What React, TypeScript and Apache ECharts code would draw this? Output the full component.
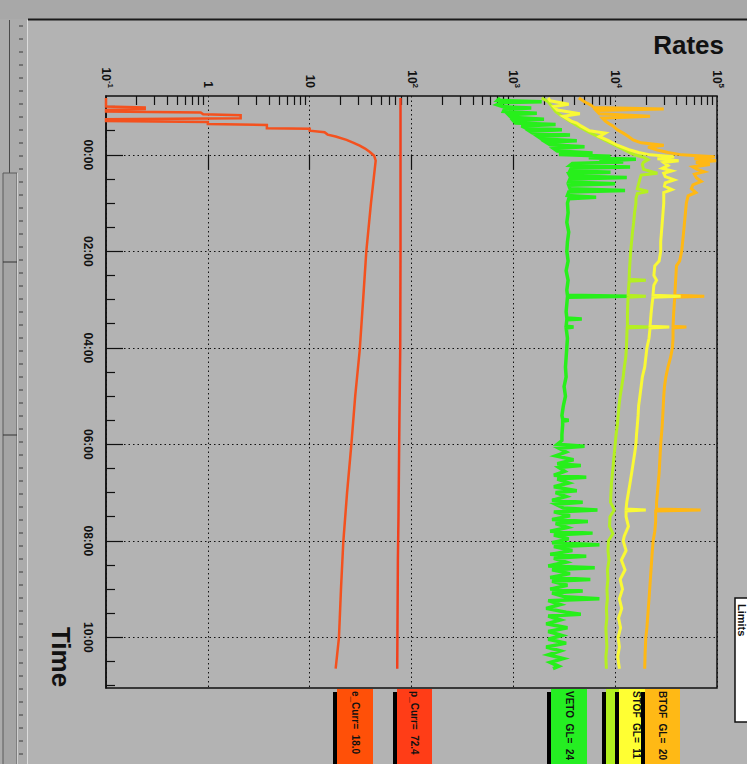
import React, { useEffect, useRef } from "react";
import * as echarts from "echarts";

// Time axis (hours relative to midnight)
const hourTicks = [0, 2, 4, 6, 8, 10];
const halfHourTicks = [-1, -0.5, 0.5, 1, 1.5, 2.5, 3, 3.5, 4.5, 5, 5.5, 6.5, 7, 7.5, 8.5, 9, 9.5, 10.5, 11];
const hourLabels = ["00:00", "02:00", "04:00", "06:00", "08:00", "10:00"];

// Rate axis (log)
const decadeTicks = [0.1, 1, 10, 100, 1000, 10000, 100000];
const decadeLabels = ["10^-1", "1", "10", "10^2", "10^3", "10^4", "10^5"];
const subDecadeTicks = [
  0.2, 0.3, 0.4, 0.5, 0.6, 0.7, 0.8, 0.9,
  2, 3, 4, 5, 6, 7, 8, 9,
  20, 30, 40, 50, 60, 70, 80, 90,
  200, 300, 400, 500, 600, 700, 800, 900,
  2000, 3000, 4000, 5000, 6000, 7000, 8000, 9000,
  20000, 30000, 40000, 50000, 60000, 70000, 80000, 90000,
];

// [hour, value]
const eCurr: [number, number][] = [
  [-1.18, 0.1], [-1.0, 0.1], [-0.98, 0.24], [-0.95, 0.24], [-0.93, 0.1], [-0.9, 0.1], [-0.88, 0.85],
  [-0.84, 0.9], [-0.82, 2.1], [-0.76, 2.1], [-0.74, 0.1], [-0.7, 0.1], [-0.68, 1.0], [-0.64, 1.0],
  [-0.62, 3.8], [-0.55, 3.8], [-0.54, 10], [-0.5, 10], [-0.47, 14], [-0.42, 15], [-0.38, 18],
  [-0.31, 23], [-0.25, 27], [-0.19, 31], [-0.13, 35], [-0.06, 39], [0.02, 43], [0.12, 44.5],
  [1.0, 40], [2.0, 36], [3.0, 33.5], [4.05, 31], [5.0, 28], [6.03, 25.6], [7.0, 23.3],
  [8.02, 21.4], [9.0, 20.3], [10.0, 19.4], [10.65, 18.0],
];

const pCurr: [number, number][] = [
  [-1.18, 78], [2.0, 78], [4.0, 77.5], [5.6, 76], [7.5, 74.5], [8.4, 73.5], [10.65, 72.4],
];

const vetoRate: [number, number][] = [
  [-1.18, 740], [-1.13, 700], [-1.1, 1900], [-1.08, 760], [-1.04, 690], [-1.0, 780], [-0.97, 1500],
  [-0.95, 820], [-0.9, 800], [-0.86, 1700], [-0.83, 900], [-0.78, 950], [-0.74, 2000], [-0.71, 1000],
  [-0.66, 1050], [-0.63, 2600], [-0.6, 1200], [-0.55, 1350], [-0.52, 3000], [-0.49, 1450],
  [-0.45, 1550], [-0.41, 3600], [-0.38, 1750], [-0.33, 1900], [-0.29, 4200], [-0.26, 2100],
  [-0.21, 2300], [-0.17, 5000], [-0.13, 2500], [-0.08, 2700], [-0.04, 6000], [-0.01, 2800],
  [0.03, 9000], [0.06, 5500], [0.09, 16000], [0.12, 7000], [0.15, 12000], [0.18, 3800],
  [0.22, 3600], [0.25, 14000], [0.28, 3700], [0.33, 3600], [0.36, 9000], [0.39, 3500],
  [0.44, 3600], [0.47, 13000], [0.5, 3600], [0.56, 3500], [0.6, 10000], [0.63, 3500],
  [0.7, 3600], [0.74, 12500], [0.77, 3500], [0.84, 3400], [0.88, 6500], [0.91, 3500],
  [1.0, 3400], [1.2, 3450], [1.4, 3350], [1.6, 3500], [1.8, 3400], [2.0, 3350], [2.2, 3450],
  [2.4, 3300], [2.6, 3450], [2.8, 3350], [2.91, 3400], [2.93, 13500], [2.95, 3400], [3.1, 3350],
  [3.25, 3300], [3.38, 3350], [3.4, 4700], [3.42, 3350], [3.55, 3300], [3.57, 3900], [3.59, 3300],
  [3.8, 3400], [4.0, 3350], [4.2, 3300], [4.4, 3250], [4.6, 3300], [4.8, 3150], [5.0, 3250],
  [5.2, 3100], [5.4, 3000], [5.48, 3050], [5.5, 3500], [5.52, 3050], [5.6, 3050], [5.8, 3000],
  [5.92, 3000], [6.0, 2700], [6.04, 5000], [6.08, 2800], [6.16, 3300], [6.24, 2600], [6.32, 3900],
  [6.4, 2700], [6.44, 4600], [6.48, 2800], [6.56, 3200], [6.64, 2500], [6.68, 5200], [6.72, 2700],
  [6.8, 3500], [6.88, 2500], [6.96, 4200], [7.0, 2600], [7.08, 3300], [7.16, 2400], [7.2, 4800],
  [7.24, 2600], [7.32, 3100], [7.36, 6700], [7.4, 2500], [7.48, 3600], [7.56, 2400], [7.6, 5400],
  [7.64, 2600], [7.72, 3400], [7.8, 2300], [7.84, 6000], [7.88, 2500], [7.96, 3500], [8.04, 2400],
  [8.08, 7000], [8.12, 2500], [8.2, 3800], [8.28, 2300], [8.32, 5200], [8.36, 2500], [8.44, 3300],
  [8.52, 2200], [8.56, 6300], [8.6, 2400], [8.68, 3600], [8.76, 2300], [8.8, 5700], [8.84, 2400],
  [8.92, 3400], [9.0, 2300], [9.04, 4800], [9.08, 2400], [9.16, 3200], [9.2, 7000], [9.24, 2200],
  [9.32, 2900], [9.4, 2100], [9.48, 3300], [9.52, 4600], [9.56, 2200], [9.64, 2900], [9.72, 2100],
  [9.8, 3400], [9.88, 2200], [9.96, 3000], [10.04, 2200], [10.12, 3300], [10.2, 2100], [10.28, 2900],
  [10.36, 2200], [10.44, 3100], [10.52, 2300], [10.6, 2800], [10.65, 2450],
];

const innerRate: [number, number][] = [
  [-1.18, 1900], [-1.1, 2200], [-1.0, 2400], [-0.9, 2600], [-0.8, 3000], [-0.7, 3600], [-0.6, 4300],
  [-0.5, 5200], [-0.4, 6500], [-0.3, 8000], [-0.2, 10000], [-0.1, 12500], [0.0, 15500],
  [0.05, 19000], [0.1, 21000], [0.15, 19000], [0.2, 18500], [0.3, 19000], [0.38, 26000],
  [0.42, 18000], [0.5, 17500], [0.6, 17000], [0.7, 16500], [0.76, 21000], [0.8, 16500],
  [0.9, 16000], [1.0, 16000], [1.2, 15500], [1.4, 15200], [1.6, 14800], [1.8, 14500],
  [2.0, 14200], [2.2, 14000], [2.4, 13800], [2.58, 13700], [2.6, 20000], [2.62, 13700],
  [2.8, 13500], [2.91, 13400], [2.93, 20000], [2.95, 13400], [3.1, 13300], [3.3, 13200],
  [3.55, 13200], [3.57, 22000], [3.59, 13100], [3.8, 13000], [4.0, 12900], [4.2, 12700],
  [4.4, 12300], [4.6, 12000], [4.8, 11600], [5.0, 11200], [5.2, 10900], [5.4, 10700],
  [5.6, 10500], [5.8, 10200], [6.0, 10000], [6.2, 9800], [6.4, 9600], [6.6, 9400], [6.8, 9200],
  [7.0, 9100], [7.2, 9000], [7.36, 9800], [7.5, 8900], [7.7, 8800], [7.85, 9500], [8.0, 8600],
  [8.2, 8500], [8.4, 8700], [8.6, 8400], [8.8, 8500], [9.0, 8300], [9.2, 8400], [9.4, 8200],
  [9.6, 8300], [9.8, 8100], [10.0, 8200], [10.2, 8300], [10.4, 8100], [10.65, 8200],
];

const stofRate: [number, number][] = [
  [-1.18, 2200], [-1.12, 2300], [-1.05, 3500], [-1.0, 2500], [-0.93, 2700], [-0.85, 4500],
  [-0.8, 3100], [-0.7, 3700], [-0.66, 4200], [-0.6, 4600], [-0.5, 5600], [-0.45, 8000],
  [-0.38, 7000], [-0.3, 8500], [-0.2, 10500], [-0.1, 14000], [-0.05, 17000], [0.0, 22000],
  [0.04, 38000], [0.08, 26000], [0.12, 42000], [0.16, 30000], [0.22, 33000], [0.28, 29000],
  [0.33, 36000], [0.38, 30000], [0.45, 31000], [0.52, 38000], [0.58, 31000], [0.65, 30500],
  [0.72, 36000], [0.78, 30000], [0.9, 30000], [1.0, 30000], [1.2, 29500], [1.4, 29000],
  [1.6, 28500], [1.8, 28000], [2.0, 28000], [2.2, 27000], [2.3, 24500], [2.5, 24000],
  [2.6, 25500], [2.7, 24000], [2.91, 23500], [2.93, 44000], [2.95, 23500], [3.1, 23000],
  [3.3, 22500], [3.55, 22000], [3.57, 34000], [3.59, 22000], [3.8, 21500], [4.0, 20500],
  [4.2, 20000], [4.4, 19500], [4.6, 18500], [4.8, 18000], [5.0, 17500], [5.2, 17000],
  [5.4, 16800], [5.6, 16500], [5.8, 16200], [6.0, 16000], [6.2, 15500], [6.4, 15000],
  [6.6, 14500], [6.8, 14000], [7.0, 13500], [7.2, 13000], [7.34, 12800], [7.36, 20000],
  [7.38, 12800], [7.5, 12800], [7.7, 13500], [7.9, 12300], [8.0, 12000], [8.2, 12800],
  [8.4, 11500], [8.6, 12500], [8.8, 11200], [9.0, 11800], [9.2, 11000], [9.4, 11600],
  [9.6, 10800], [9.8, 11300], [10.0, 10700], [10.2, 11000], [10.4, 10600], [10.65, 11000],
];

const btofRate: [number, number][] = [
  [-1.18, 4400], [-1.1, 5000], [-1.03, 5800], [-0.98, 6200], [-0.95, 30000], [-0.92, 6500],
  [-0.85, 7000], [-0.8, 22000], [-0.76, 7500], [-0.7, 8000], [-0.64, 8800], [-0.6, 9500],
  [-0.52, 10500], [-0.45, 12000], [-0.38, 13500], [-0.31, 15000], [-0.25, 18000], [-0.2, 30000],
  [-0.16, 21000], [-0.1, 26000], [-0.05, 33000], [0.0, 45000], [0.04, 95000], [0.08, 60000],
  [0.12, 98000], [0.16, 62000], [0.2, 85000], [0.25, 58000], [0.3, 64000], [0.35, 75000],
  [0.4, 60000], [0.48, 63000], [0.55, 70000], [0.62, 58000], [0.7, 56000], [0.78, 62000],
  [0.85, 52000], [1.0, 50000], [1.2, 49000], [1.4, 48000], [1.6, 47000], [1.8, 46000],
  [2.0, 45000], [2.2, 43000], [2.3, 40000], [2.5, 39500], [2.7, 39000], [2.91, 38500],
  [2.93, 75000], [2.95, 38500], [3.1, 38000], [3.3, 37500], [3.55, 37000], [3.57, 50000],
  [3.59, 37000], [3.8, 37000], [4.0, 36500], [4.2, 35000], [4.4, 33000], [4.6, 31500],
  [4.8, 30500], [5.0, 30000], [5.3, 29500], [5.6, 29000], [6.0, 28000], [6.3, 27500],
  [6.6, 27000], [7.0, 26000], [7.2, 25500], [7.34, 25500], [7.36, 69000], [7.38, 25000],
  [7.6, 25000], [7.8, 24500], [8.0, 23600], [8.3, 23000], [8.6, 22500], [8.9, 22000],
  [9.2, 21500], [9.5, 21000], [9.8, 20500], [10.0, 20000], [10.3, 19700], [10.65, 19500],
];

// Legend pave labels
const legendTexts = ["e_Curr=  18.0", "p_Curr=  72.4", "VETO  GL=  24", "", "STOF  GL=  11", "BTOF  GL=  20"];

const FONT = "'Liberation Sans', Arial, Helvetica, sans-serif";

const pad2 = (n: number) => (n < 10 ? "0" + n : "" + n);

function formatDecade(v: number): string {
  const i = decadeTicks.findIndex((d) => Math.abs(Math.log10(d) - Math.log10(v)) < 1e-6);
  if (i < 0) return "";
  const [base, exp] = decadeLabels[i].split("^");
  return exp ? `{b|${base}}{s|${exp}}` : `{b|${base}}`;
}

function formatHour(v: number): string {
  const i = hourTicks.indexOf(Math.round(v));
  return i >= 0 ? hourLabels[i] : pad2(Math.round(v)) + ":00";
}

export default function App() {
  const ref = useRef<HTMLDivElement>(null);

  useEffect(() => {
    if (!ref.current) return;
    const chart = echarts.init(ref.current, undefined, { renderer: "svg" });

    const line = (name: string, data: [number, number][], color: string, width: number) => ({
      name,
      type: "line",
      xAxisIndex: 0,
      yAxisIndex: 0,
      data: data.map(([h, v]) => [v, h]),
      showSymbol: false,
      symbol: "none",
      lineStyle: { color, width, join: "miter" },
      emphasis: { disabled: true },
      z: 3,
    });

    // left control strip dashes
    const stripDashes: any[] = [];
    for (let y = 26; y < 764; y += 13) {
      stripDashes.push({
        type: "line",
        shape: { x1: 19, y1: y, x2: 23, y2: y },
        style: { stroke: "#3a3a3a", lineWidth: 1 },
        silent: true,
      });
    }

    const legendBox = (x: number, w: number, color: string, text: string, textX: number) => ({
      type: "group",
      silent: true,
      children: [
        { type: "rect", shape: { x: x - 4, y: 692, width: 4, height: 80 }, style: { fill: "#000" } },
        { type: "rect", shape: { x, y: 689, width: w, height: 80 }, style: { fill: color } },
        {
          type: "text",
          x: textX,
          y: 691,
          rotation: -Math.PI / 2,
          style: {
            text,
            fill: "#111",
            font: `bold 10px ${FONT}`,
            textAlign: "left",
            textVerticalAlign: "middle",
          },
        },
      ],
    });

    chart.setOption({
      animation: false,
      backgroundColor: "#b3b3b3",
      grid: {
        left: 106,
        top: 96,
        right: 30,
        bottom: 76,
        show: true,
        borderColor: "#111",
        borderWidth: 1.5,
        backgroundColor: "transparent",
      },
      xAxis: [
        {
          type: "log",
          logBase: 10,
          min: 0.1,
          max: 100000,
          position: "top",
          // the frame's top edge comes from the grid border
          axisLine: { show: false },
          axisTick: { show: true, inside: true, length: 15, customValues: decadeTicks, lineStyle: { color: "#111", width: 1.2 } },
          axisLabel: {
            show: true,
            customValues: decadeTicks,
            rotate: -90,
            margin: 8,
            align: "right",
            verticalAlign: "middle",
            formatter: (v: number) => formatDecade(v),
            rich: {
              b: { fontFamily: FONT, fontWeight: "bold", fontSize: 12, color: "#111" },
              s: { fontFamily: FONT, fontWeight: "bold", fontSize: 8, color: "#111", padding: [0, 0, 8, 0] },
            },
          },
          splitLine: { show: true, lineStyle: { color: "#111", width: 1, type: [1.5, 3] } },
        },
        {
          type: "log",
          logBase: 10,
          min: 0.1,
          max: 100000,
          position: "top",
          axisLine: { show: false, onZero: false },
          axisTick: { show: true, inside: true, length: 9, customValues: subDecadeTicks, lineStyle: { color: "#111", width: 1.2 } },
          axisLabel: { show: false },
          splitLine: { show: false },
        },
      ],
      yAxis: [
        {
          type: "value",
          inverse: true,
          min: -1.22,
          max: 11.05,
          position: "left",
          axisLine: { show: true, onZero: false, lineStyle: { color: "#111", width: 1.5 } },
          axisTick: { show: true, inside: true, length: 17, customValues: hourTicks, lineStyle: { color: "#111", width: 1.2 } },
          axisLabel: {
            show: true,
            customValues: hourTicks,
            rotate: -90,
            margin: 18,
            align: "center",
            verticalAlign: "middle",
            fontFamily: FONT,
            fontWeight: "bold",
            fontSize: 12,
            color: "#111",
            formatter: (v: number) => formatHour(v),
          },
          splitLine: { show: true, lineStyle: { color: "#111", width: 1, type: [1.5, 3] } },
        },
        {
          type: "value",
          inverse: true,
          min: -1.22,
          max: 11.05,
          position: "left",
          axisLine: { show: false, onZero: false },
          axisTick: { show: true, inside: true, length: 9, customValues: halfHourTicks, lineStyle: { color: "#111", width: 1.2 } },
          axisLabel: { show: false },
          splitLine: { show: false },
        },
      ],
      series: [
        line("VETO", vetoRate, "#27ef1b", 3.5),
        line("BTOF", btofRate, "#ffb814", 3),
        line("Inner", innerRate, "#b4ef22", 3),
        line("STOF", stofRate, "#f9f935", 3),
        line("e_Curr", eCurr, "#f4511e", 2.5),
        line("p_Curr", pCurr, "#f2401c", 2.5),
      ],
      graphic: [
        // top band and pad border
        { type: "rect", silent: true, z: -10, shape: { x: 0, y: 0, width: 747, height: 19 }, style: { fill: "#a8a8a8" } },
        { type: "line", silent: true, shape: { x1: 28, y1: 19.5, x2: 747, y2: 19.5 }, style: { stroke: "#1a1a1a", lineWidth: 2 } },
        // left control strip
        { type: "rect", silent: true, z: -10, shape: { x: 0, y: 19, width: 27, height: 745 }, style: { fill: "#ababab" } },
        { type: "line", silent: true, shape: { x1: 27.5, y1: 20, x2: 27.5, y2: 764 }, style: { stroke: "#dcdcdc", lineWidth: 1 } },
        { type: "line", silent: true, shape: { x1: 9.5, y1: 20, x2: 9.5, y2: 173 }, style: { stroke: "#4a4a4a", lineWidth: 1 } },
        { type: "rect", silent: true, shape: { x: 3, y: 173, width: 14, height: 600 }, style: { fill: "#a4a4a4", stroke: "#5a5a5a", lineWidth: 1 } },
        { type: "line", silent: true, shape: { x1: 17.5, y1: 173, x2: 17.5, y2: 764 }, style: { stroke: "#d0d0d0", lineWidth: 1 } },
        { type: "line", silent: true, shape: { x1: 3, y1: 262, x2: 17, y2: 262 }, style: { stroke: "#333", lineWidth: 1 } },
        { type: "line", silent: true, shape: { x1: 3, y1: 435, x2: 17, y2: 435 }, style: { stroke: "#333", lineWidth: 1 } },
        ...stripDashes,
        // title and axis name
        {
          type: "text",
          x: 724,
          y: 45,
          silent: true,
          style: { text: "Rates", fill: "#111", font: `bold 26px ${FONT}`, textAlign: "right", textVerticalAlign: "middle" },
        },
        {
          type: "text",
          x: 61,
          y: 657,
          rotation: -Math.PI / 2,
          silent: true,
          style: { text: "Time", fill: "#111", font: `bold 26px ${FONT}`, textAlign: "center", textVerticalAlign: "middle" },
        },
        // legend paves
        legendBox(337, 36, "#ff5008", legendTexts[0], 355),
        legendBox(397, 35, "#ff3d17", legendTexts[1], 414),
        legendBox(551, 36, "#25ee22", legendTexts[2], 569),
        legendBox(606, 14, "#b2f01e", legendTexts[3], 612),
        legendBox(619, 26, "#ffff33", legendTexts[4], 636),
        legendBox(645, 35, "#ffb915", legendTexts[5], 662),
        // limits pave at the right edge
        {
          type: "group",
          silent: true,
          children: [
            { type: "rect", shape: { x: 735, y: 598, width: 20, height: 124 }, style: { fill: "#ffffff", stroke: "#111", lineWidth: 1.5 } },
            {
              type: "text",
              x: 742,
              y: 604,
              rotation: -Math.PI / 2,
              style: { text: "Limits", fill: "#111", font: `bold 11px ${FONT}`, textAlign: "left", textVerticalAlign: "middle" },
            },
          ],
        },
      ],
    });

    return () => chart.dispose();
  }, []);

  return (
    <div
      ref={ref}
      style={{ position: "absolute", left: 0, top: 0, width: 747, height: 764 }}
    />
  );
}
